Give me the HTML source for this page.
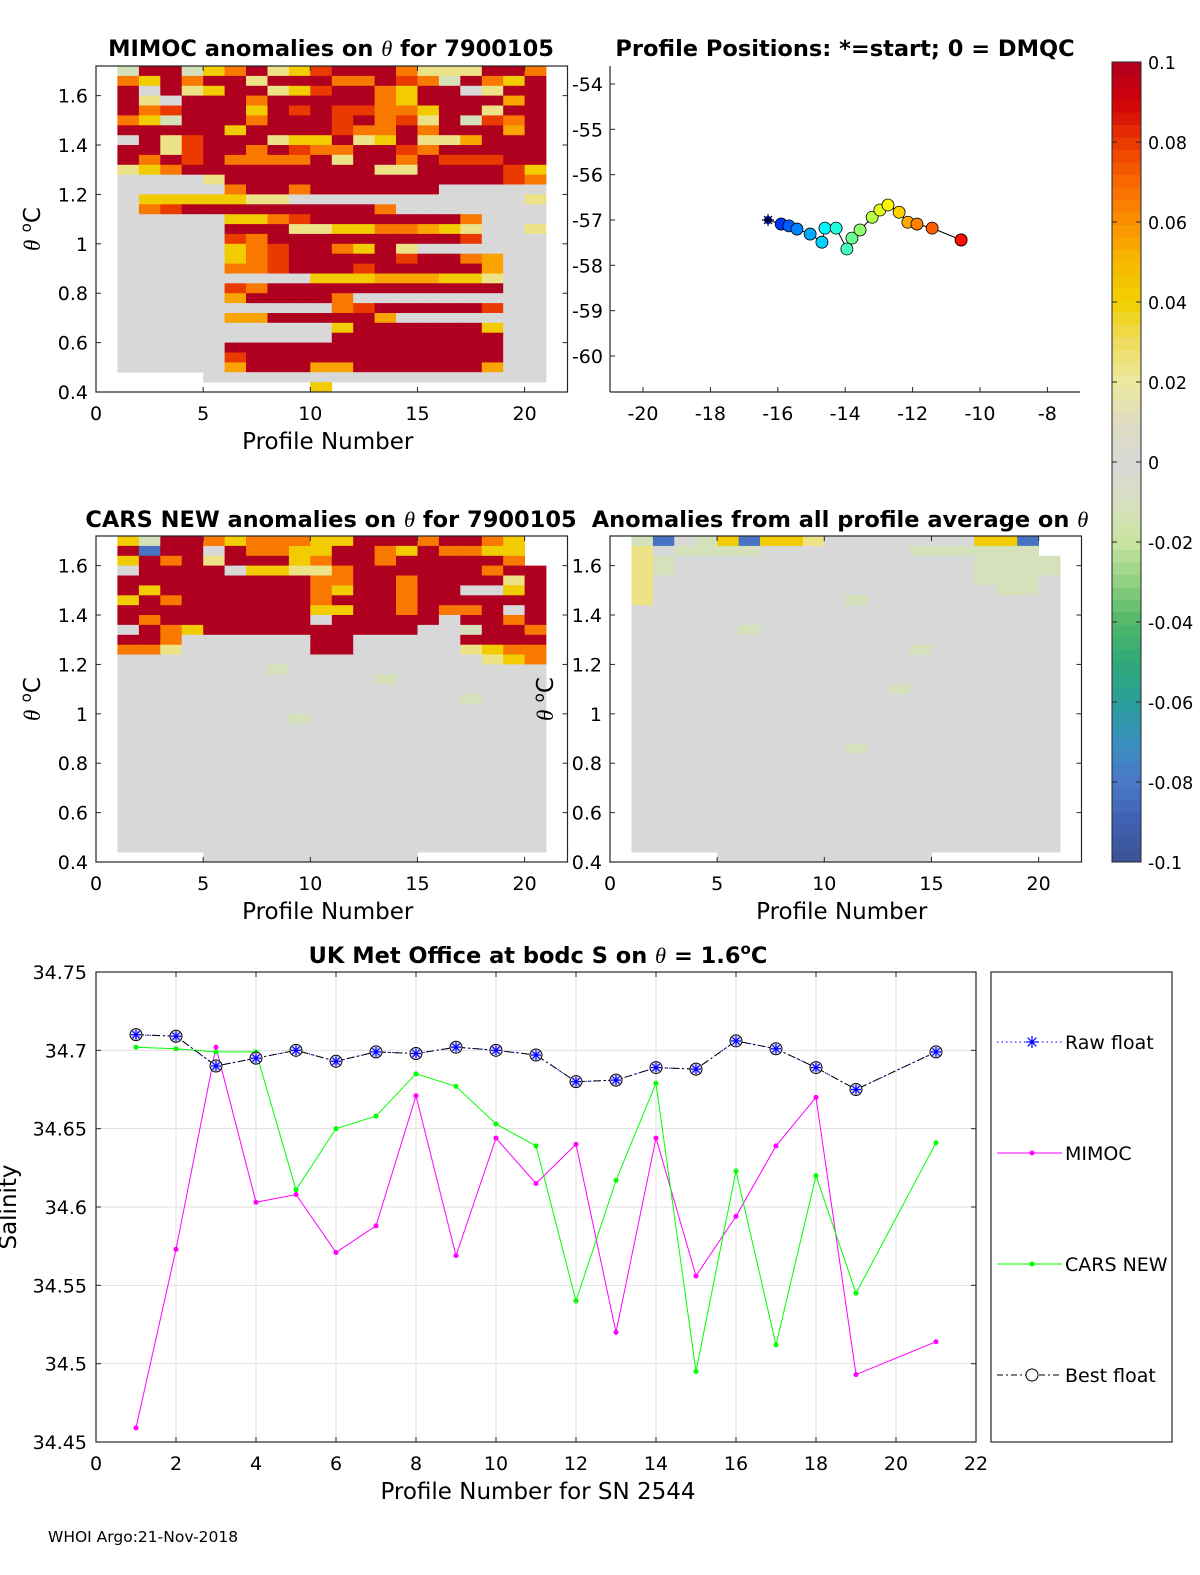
<!DOCTYPE html>
<html><head><meta charset="utf-8"><title>Argo float QC summary</title>
<style>
html,body{margin:0;padding:0;background:#fff;}
svg{display:block;font-family:"DejaVu Sans","Liberation Sans",sans-serif;}
</style></head>
<body>
<svg id="fig" width="1200" height="1575" viewBox="0 0 1200 1575" xmlns="http://www.w3.org/2000/svg">
<rect width="1200" height="1575" fill="#fff"/>
</svg>
<script>
// ---------- data ----------
const profiles = [1,2,3,4,5,6,7,8,9,10,11,12,13,14,15,16,17,18,19,21];
const rawFloat = [34.710,34.709,34.690,34.695,34.700,34.693,34.699,34.698,34.702,34.700,34.697,34.680,34.681,34.689,34.688,34.706,34.701,34.689,34.675,34.699];
const bestFloat = [34.710,34.709,34.690,34.695,34.700,34.693,34.699,34.698,34.702,34.700,34.697,34.680,34.681,34.689,34.688,34.706,34.701,34.689,34.675,34.699];
const mimocS = [34.459,34.573,34.702,34.603,34.608,34.571,34.588,34.671,34.569,34.644,34.615,34.640,34.520,34.644,34.556,34.594,34.639,34.670,34.493,34.514];
const carsS = [34.702,34.701,34.699,34.699,34.611,34.650,34.658,34.685,34.677,34.653,34.639,34.540,34.617,34.679,34.495,34.623,34.512,34.620,34.545,34.641];
const salTicks = [34.45,34.5,34.55,34.6,34.65,34.7,34.75];
const salTickLabels = ["34.45","34.5","34.55","34.6","34.65","34.7","34.75"];
const profTicksB = [0,2,4,6,8,10,12,14,16,18,20,22];
const lons = [-16.29,-15.90,-15.67,-15.43,-15.04,-14.69,-14.60,-14.27,-13.95,-13.80,-13.56,-13.20,-12.97,-12.73,-12.40,-12.14,-11.87,-11.42,-10.56,-10.56];
const lats = [-57.00,-57.09,-57.13,-57.20,-57.31,-57.49,-57.18,-57.18,-57.64,-57.40,-57.22,-56.94,-56.78,-56.67,-56.83,-57.05,-57.09,-57.18,-57.44,-57.44];
const lonTicks = [-20,-18,-16,-14,-12,-10,-8];
const latTicks = [-54,-55,-56,-57,-58,-59,-60];
const thetaTicks = [0.4,0.6,0.8,1,1.2,1.4,1.6];
const thetaTickLabels = ["0.4","0.6","0.8","1","1.2","1.4","1.6"];
const profTicks = [0,5,10,15,20];
const cbTicks = [0.1,0.08,0.06,0.04,0.02,0,-0.02,-0.04,-0.06,-0.08,-0.1];
const cbTickLabels = ["0.1","0.08","0.06","0.04","0.02","0","-0.02","-0.04","-0.06","-0.08","-0.1"];
// heatmap codes -> anomaly values (rows: theta 1.72 down in 0.04 steps; cols: profiles 1..20)
const codeValues = {r:0.1,e:0.08,o:0.066,a:0.055,y:0.042,l:0.024,g:0,n:-0.012,b:-0.082};
const mimocRows = [
"nrrnyorlyerrrolllrro","oyrorrlrrrooreonroyr","rgrlyrrlyerroyrrglrr","rlgrrrorrrrroyrrrrar",
"roerrryrereeooyrrlrr","oynrrrorrreroelrneor","rrrrryrrrreoororrrar","grlerrrlyyrlyrllarrr",
"rrlerroreoorreorrrrr","roreroooorlrroreeerr","lyorrrrrrrrrllrrrrey","gggglrrrrrrrrrrrrreo",
"gggggorrorrrrrrggggg","gyyyyyllgggggggggggl","goerrrrrrrrroggggggg","gggggyyoerrrrrrroggg",
"gggggrrrllyyooaylggl","gggggeorrrrrrrrreggg","gggggyoerroyrlgggggg","gggggyoerrrrrerroagg",
"gggggooerrrerrrrragg","gggggggggyyyaaayylgg","gggggeorrrrrrrrrrrgg","gggggarrrrogggggggggg",
"ggggggggggoerrrrregg","gggggaarrrrragggggggg","ggggggggggyrrrrrrygg","ggggggggggrrrrrrrrgg",
"gggggrrrrrrrrrrrrrgg","gggggerrrrrrrrrrrrgg","gggggarrraarrrrrragg","....gggggggggggggggg",
".........y.........."];
const carsRows = [
"ynrroyoooyyrrrorroy.","rbrrgrooyyrroyrooyy.","yrorlrrryorrorrrrro.","grrrrgyyllorrrrrrorr",
"rrrrrrrrroorrorrrrlr","ryrrrrrrroyrrorrggyr","yrorrrrrrorrrorrrrrr","rrrrrrrrryyrroroorgr",
"rorrrrrrrgrrrrrgrror","groyrrrrrrrrrrggnrro","rroggggggrrgggggrrrr","oolggggggrrggggglyoo",
"ggggggggggggggggglyo","gggggggngggggggggggg","ggggggggggggnggggggg","gggggggggggggggggggg",
"ggggggggggggggggnggg","gggggggggggggggggggg","ggggggggnggggggggggg","gggggggggggggggggggg",
"gggggggggggggggggggg","gggggggggggggggggggg","gggggggggggggggggggg","gggggggggggggggggggg",
"gggggggggggggggggggg","gggggggggggggggggggg","gggggggggggggggggggg","gggggggggggggggggggg",
"gggggggggggggggggggg","gggggggggggggggggggg","gggggggggggggggggggg","gggggggggggggggggggg",
"....gggggggggg......"];
const avgRows = [
"nbgnybyylgggggggyyb.","lgnnnngggggggnnnnnn.","lnggggggggggggggnnnn","lnggggggggggggggnnnn",
"lgggggggggggggggnnng","lggggggggggggggggnng","lgggggggggnggggggggg","gggggggggggggggggggg",
"gggggggggggggggggggg","gggggngggggggggggggg","gggggggggggggggggggg","gggggggggggggngggggg",
"gggggggggggggggggggg","gggggggggggggggggggg","gggggggggggggggggggg","ggggggggggggnggggggg",
"gggggggggggggggggggg","gggggggggggggggggggg","gggggggggggggggggggg","gggggggggggggggggggg",
"gggggggggggggggggggg","ggggggggggnggggggggg","gggggggggggggggggggg","gggggggggggggggggggg",
"gggggggggggggggggggg","gggggggggggggggggggg","gggggggggggggggggggg","gggggggggggggggggggg",
"gggggggggggggggggggg","gggggggggggggggggggg","gggggggggggggggggggg","gggggggggggggggggggg",
"....gggggggggg......"];

// ---------- helpers ----------
const svg = document.getElementById('fig');
const NS = 'http://www.w3.org/2000/svg';
const TICK=19, LAB=23, TTL=22.5;
function mk(tag, attrs, parent){
  const e = document.createElementNS(NS, tag);
  for (const k in attrs) e.setAttribute(k, attrs[k]);
  (parent||svg).appendChild(e);
  return e;
}
function txt(x,y,s,size,anchor,weight,parent){
  const t = mk('text',{x:x,y:y,'font-size':size,'text-anchor':anchor||'start','font-weight':weight||'normal',fill:'#000'},parent);
  t.textContent = s;
  return t;
}
const cmapStops = [[-0.1,'#3b5394'],[-0.09,'#4060b0'],[-0.08,'#4a78c8'],[-0.07,'#3a90c0'],[-0.06,'#2a9e9a'],[-0.05,'#30a878'],[-0.04,'#50b868'],[-0.03,'#90d080'],[-0.02,'#c8e4a0'],[-0.01,'#d8e0c0'],[0,'#d8d8d8'],[0.01,'#dedcc0'],[0.02,'#ece8a0'],[0.03,'#eedc60'],[0.04,'#f0d000'],[0.05,'#f8b800'],[0.06,'#fa9000'],[0.07,'#f86800'],[0.08,'#ea3a00'],[0.09,'#d00008'],[0.1,'#b00020']];
function hex2(h){return [parseInt(h.substr(1,2),16),parseInt(h.substr(3,2),16),parseInt(h.substr(5,2),16)];}
function cmap(v){
  v=Math.max(-0.1,Math.min(0.1,v));
  for(let i=0;i<cmapStops.length-1;i++){
    const [a,ca]=cmapStops[i],[b,cb]=cmapStops[i+1];
    if(v>=a&&v<=b){const f=(v-a)/(b-a),A=hex2(ca),B=hex2(cb);
      return 'rgb('+A.map((c,k)=>Math.round(c+(B[k]-c)*f)).join(',')+')';}
  }
  return '#d8d8d8';
}
function jet(f){
  f = 0.14 + 0.72*f;
  const r=Math.max(0,Math.min(1,1.5-Math.abs(4*f-3))),g=Math.max(0,Math.min(1,1.5-Math.abs(4*f-2))),b=Math.max(0,Math.min(1,1.5-Math.abs(4*f-1)));
  return 'rgb('+Math.round(r*255)+','+Math.round(g*255)+','+Math.round(b*255)+')';
}
function thetaLabel(x,y,parent){
  const t = mk('text',{x:0,y:0,'font-size':LAB,'text-anchor':'middle',fill:'#000'},parent);
  t.innerHTML='<tspan font-style="italic" font-family="Liberation Serif, serif">θ</tspan> <tspan font-size="15" dy="-9">o</tspan><tspan dy="9">C</tspan>';
  t.setAttribute('transform','translate('+x+','+y+') rotate(-90)');
  return t;
}

// ---------- heatmap panel ----------
function heatPanel(name,left,top,rows,ylabX){
  const W=471.5,H=326;
  const g = mk('g',{});
  
  
  const xS = v => left + v*(W/22);
  const yS = t => top + H - (t-0.4)*(H/1.32);
  rows.forEach((rs,i)=>{
    const s=(rs+'....................').slice(0,20);
    const tTop=Math.min(1.72,1.72-0.04*i), tBot=Math.max(0.4,1.72-0.04*(i+1));
    for(let j=0;j<20;j++){
      const c=s[j]; if(!(c in codeValues)) continue;
      const x0=xS(j+1),x1=xS(j+2);
      const r = mk('rect',{x:x0.toFixed(1),y:yS(tTop).toFixed(1),width:(x1-x0+0.4).toFixed(1),height:(yS(tBot)-yS(tTop)+0.4).toFixed(1),fill:cmap(codeValues[c])},g);
      
      
    }
  });
  const box = mk('rect',{x:left,y:top,width:W,height:H,fill:'none',stroke:'#262626','stroke-width':1.2},g);
  
  
  thetaTicks.forEach((t,k)=>{
    const y=yS(t);
    mk('line',{x1:left,x2:left+5,y1:y,y2:y,stroke:'#262626'},g);
    mk('line',{x1:left+W-5,x2:left+W,y1:y,y2:y,stroke:'#262626'},g);
    const l=txt(left-8,y+7,thetaTickLabels[k],TICK,'end','normal',g);
    
    
  });
  profTicks.forEach(p=>{
    const x=xS(p);
    mk('line',{x1:x,x2:x,y1:top+H,y2:top+H-5,stroke:'#262626'},g);
    mk('line',{x1:x,x2:x,y1:top,y2:top+5,stroke:'#262626'},g);
    const l=txt(x,top+H+28,String(p),TICK,'middle','normal',g);
    
    
  });
  const yl = thetaLabel(ylabX,top+H/2,g);
  
  
  const xl=txt(left+W/2-4,top+H+57,'Profile Number',LAB,'middle','normal',g);
  
  
  return g;
}
heatPanel('mimoc-anomaly-heatmap',96,66,mimocRows,40);
heatPanel('cars-anomaly-heatmap',96,536,carsRows,40);
heatPanel('average-anomaly-heatmap',610,536,avgRows,553);

// titles
function titleTheta(x,y,pre,post,name){
  const t=mk('text',{x:x,y:y,'font-size':TTL,'text-anchor':'middle','font-weight':'bold',fill:'#000'});
  t.innerHTML=pre+'<tspan font-style="italic" font-weight="normal" font-family="Liberation Serif, serif">θ</tspan>'+post;
  
  
}
titleTheta(331,56,'MIMOC anomalies on ','  for 7900105','mimoc-title');
titleTheta(331,527,'CARS NEW anomalies on ',' for 7900105','cars-title');
titleTheta(840,527,'Anomalies from all profile average on ','','average-title');
{
  const t=txt(845,56,'Profile Positions: *=start; 0 = DMQC',TTL,'middle','bold');
  
  
}

// ---------- map ----------
const mapG = mk('g',{});


const xM = lon => 643 + (lon+20)*33.7;
const yM = lat => 84 + (-54-lat)*45.33;
mk('line',{x1:610,x2:1080,y1:392,y2:392,stroke:'#262626','stroke-width':1.2},mapG);
mk('line',{x1:610,x2:610,y1:66,y2:392,stroke:'#262626','stroke-width':1.2},mapG);
lonTicks.forEach(v=>{
  const x=xM(v);
  mk('line',{x1:x,x2:x,y1:392,y2:387,stroke:'#262626'},mapG);
  const l=txt(x,420,String(v),TICK,'middle','normal',mapG);
  
  
});
latTicks.forEach(v=>{
  const y=yM(v);
  mk('line',{x1:610,x2:615,y1:y,y2:y,stroke:'#262626'},mapG);
  const l=txt(603,y+7,String(v),TICK,'end','normal',mapG);
  
  
});
mk('polyline',{points:lons.map((v,i)=>xM(v).toFixed(1)+','+yM(lats[i]).toFixed(1)).join(' '),fill:'none',stroke:'#000','stroke-width':1},mapG);
lons.forEach((v,i)=>{
  if(i===0) return;
  const c=mk('circle',{cx:xM(v),cy:yM(lats[i]),r:6,fill:jet(i/(lons.length-1)),stroke:'#000','stroke-width':0.8},mapG);
  
  
});
{
  const x=xM(lons[0]),y=yM(lats[0]);
  mk('circle',{cx:x,cy:y,r:4,fill:jet(0)},mapG);
  const st=mk('g',{stroke:'#000','stroke-width':1.2},mapG);
  
  
  [[-6,0,6,0],[0,-6,0,6],[-4,-4,4,4],[-4,4,4,-4]].forEach(d=>mk('line',{x1:x+d[0],y1:y+d[1],x2:x+d[2],y2:y+d[3]},st));
}

// ---------- colorbar ----------
const cbG = mk('g',{});


const cbY = v => 62 + (0.1-v)*4000;
const nLev=64;
for(let k=0;k<nLev;k++){
  const v0=-0.1+0.2*k/nLev, v1=-0.1+0.2*(k+1)/nLev;
  mk('rect',{x:1112,y:cbY(v1).toFixed(1),width:29,height:(cbY(v0)-cbY(v1)+0.5).toFixed(1),fill:cmap((v0+v1)/2)},cbG);
}
mk('rect',{x:1112,y:62,width:29,height:800,fill:'none',stroke:'#262626','stroke-width':1},cbG);
cbTicks.forEach((v,k)=>{
  const y=cbY(v);
  mk('line',{x1:1136,x2:1141,y1:y,y2:y,stroke:'#262626'},cbG);
  mk('line',{x1:1112,x2:1117,y1:y,y2:y,stroke:'#262626'},cbG);
  const l=txt(1148,y+7,cbTickLabels[k],17.5,'start','normal',cbG);
  
  
});

// ---------- bottom salinity chart ----------
const bG = mk('g',{});


const xB = v => 96 + v*40;
const yB = s => 972 + (34.75-s)*1566.7;
profTicksB.forEach(p=>{
  const x=xB(p);
  mk('line',{x1:x,x2:x,y1:972,y2:1442,stroke:'#e0e0e0','stroke-width':1},bG);
  mk('line',{x1:x,x2:x,y1:1442,y2:1437,stroke:'#262626'},bG);
  mk('line',{x1:x,x2:x,y1:972,y2:977,stroke:'#262626'},bG);
  const l=txt(x,1470,String(p),TICK,'middle','normal',bG);
  
  
});
salTicks.forEach((s,k)=>{
  const y=yB(s);
  mk('line',{x1:96,x2:976,y1:y,y2:y,stroke:'#e0e0e0','stroke-width':1},bG);
  mk('line',{x1:96,x2:101,y1:y,y2:y,stroke:'#262626'},bG);
  mk('line',{x1:971,x2:976,y1:y,y2:y,stroke:'#262626'},bG);
  const l=txt(87,y+7,salTickLabels[k],TICK,'end','normal',bG);
  
  
});
mk('rect',{x:96,y:972,width:880,height:470,fill:'none',stroke:'#262626','stroke-width':1.2},bG);
function pts(arr){return profiles.map((p,i)=>xB(p).toFixed(1)+','+yB(arr[i]).toFixed(1)).join(' ');}
const mLine=mk('polyline',{points:pts(mimocS),fill:'none',stroke:'#ff00ff','stroke-width':1},bG);


const cLine=mk('polyline',{points:pts(carsS),fill:'none',stroke:'#00ff00','stroke-width':1},bG);


profiles.forEach((p,i)=>{
  const a=mk('circle',{cx:xB(p),cy:yB(mimocS[i]),r:2.5,fill:'#ff00ff'},bG);
  
  
  const b=mk('circle',{cx:xB(p),cy:yB(carsS[i]),r:2.5,fill:'#00ff00'},bG);
  
  
});
const rLine=mk('polyline',{points:pts(rawFloat),fill:'none',stroke:'#0000ff','stroke-width':1,'stroke-dasharray':'1.5,3'},bG);


const bLine=mk('polyline',{points:pts(bestFloat),fill:'none',stroke:'#000','stroke-width':1,'stroke-dasharray':'8,3,2,3'},bG);


function star(x,y,col,parent,sz){
  sz=sz||5;
  const g=mk('g',{stroke:col,'stroke-width':1.2},parent);
  const d2=sz*0.72;
  [[-sz,0,sz,0],[0,-sz,0,sz],[-d2,-d2,d2,d2],[-d2,d2,d2,-d2]].forEach(d=>mk('line',{x1:x+d[0],y1:y+d[1],x2:x+d[2],y2:y+d[3]},g));
  return g;
}
profiles.forEach((p,i)=>{
  const c=mk('circle',{cx:xB(p),cy:yB(bestFloat[i]),r:6,fill:'#dcdcec',stroke:'#000','stroke-width':1},bG);
  
  
  const s=star(xB(p),yB(rawFloat[i]),'#0000ff',bG,5);
  
  
});
const bt=mk('text',{x:538,y:963,'font-size':TTL,'text-anchor':'middle','font-weight':'bold',fill:'#000'},bG);
bt.innerHTML='UK Met Office at bodc S on <tspan font-style="italic" font-weight="normal" font-family="Liberation Serif, serif">θ</tspan> = 1.6<tspan font-size="15" dy="-9">o</tspan><tspan dy="9">C</tspan>';


const bxl=txt(538,1499,'Profile Number for SN 2544',LAB,'middle','normal',bG);


const byl=txt(0,0,'Salinity',LAB,'middle','normal',bG);
byl.setAttribute('transform','translate(16,1207) rotate(-90)');



// legend
const lg = mk('g',{});


mk('rect',{x:991,y:972,width:181,height:470,fill:'#fff',stroke:'#262626','stroke-width':1.2},lg);
const legY=[1042,1153,1264,1375];
const e1=mk('g',{},lg);


mk('line',{x1:997,x2:1062,y1:legY[0],y2:legY[0],stroke:'#0000ff','stroke-dasharray':'1.5,3'},e1);
star(1032,legY[0],'#0000ff',e1,6);
txt(1065,legY[0]+7,'Raw float',19,'start','normal',e1);
const e2=mk('g',{},lg);


mk('line',{x1:997,x2:1062,y1:legY[1],y2:legY[1],stroke:'#ff00ff'},e2);
mk('circle',{cx:1032,cy:legY[1],r:2.5,fill:'#ff00ff'},e2);
txt(1065,legY[1]+7,'MIMOC',19,'start','normal',e2);
const e3=mk('g',{},lg);


mk('line',{x1:997,x2:1062,y1:legY[2],y2:legY[2],stroke:'#00ff00'},e3);
mk('circle',{cx:1032,cy:legY[2],r:2.5,fill:'#00ff00'},e3);
txt(1065,legY[2]+7,'CARS NEW',19,'start','normal',e3);
const e4=mk('g',{},lg);


mk('line',{x1:997,x2:1062,y1:legY[3],y2:legY[3],stroke:'#000','stroke-dasharray':'6,3,2,3'},e4);
mk('circle',{cx:1032,cy:legY[3],r:6,fill:'#fff',stroke:'#000'},e4);
txt(1065,legY[3]+7,'Best float',19,'start','normal',e4);

const ft=txt(48,1542,'WHOI Argo:21-Nov-2018',15.5,'start','normal');


</script>
</body></html>
